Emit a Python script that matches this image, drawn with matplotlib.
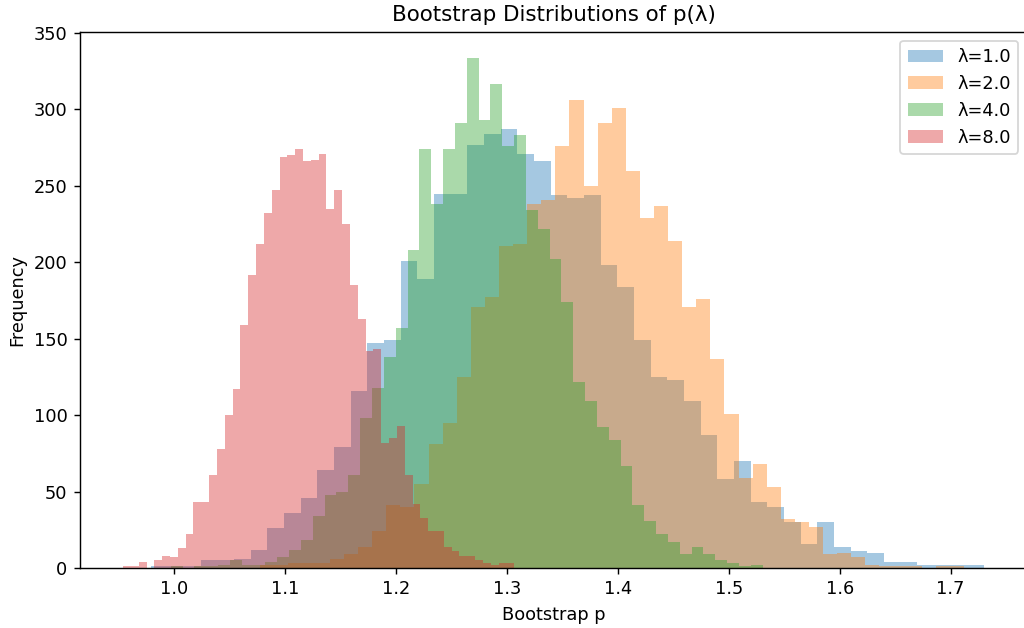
import numpy as np
import matplotlib
matplotlib.use('Agg')
import matplotlib.pyplot as plt

# Bootstrap histograms of p for each lambda: 50 equal bins between
# the smallest and largest bootstrap value, 5000 resamples each
lambdas = [1.0, 2.0, 4.0, 8.0]

p_range_l1 = (0.979, 1.730)
p_range_l2 = (1.077, 1.712)
p_range_l4 = (0.997, 1.5305)
p_range_l8 = (0.954, 1.3066)

counts_l1 = [1, 1, 1, 5, 5, 6, 12, 26, 36, 46,
             64, 79, 116, 147, 149, 201, 189, 245, 245, 277,
             284, 287, 271, 266, 244, 242, 244, 198, 184, 149,
             125, 123, 109, 87, 58, 70, 43, 40, 30, 16,
             30, 14, 11, 10, 4, 4, 2, 2, 2, 2]

counts_l2 = [2, 2, 3, 3, 3, 6, 9, 14, 24, 41,
             40, 55, 81, 95, 125, 171, 177, 211, 212, 238,
             241, 276, 306, 250, 291, 301, 260, 229, 237, 214,
             171, 176, 137, 101, 59, 68, 53, 32, 30, 27,
             9, 10, 7, 2, 1, 1, 1, 0, 1, 1]

counts_l4 = [1, 0, 1, 1, 2, 5, 2, 2, 4, 7,
             12, 18, 34, 48, 50, 61, 98, 118, 138, 157,
             208, 274, 238, 274, 291, 334, 293, 317, 276, 283,
             234, 222, 202, 174, 122, 109, 92, 84, 67, 41,
             31, 22, 17, 9, 14, 9, 5, 3, 1, 2]

counts_l8 = [1, 1, 4, 0, 5, 8, 7, 13, 22, 43,
             43, 61, 78, 100, 117, 159, 192, 212, 232, 247,
             269, 270, 274, 266, 267, 271, 235, 247, 225, 185,
             163, 142, 143, 82, 85, 93, 61, 42, 33, 24,
             24, 14, 11, 8, 8, 5, 3, 2, 3, 3]

ranges = [p_range_l1, p_range_l2, p_range_l4, p_range_l8]
counts = [counts_l1, counts_l2, counts_l4, counts_l8]

# 1024 x 628 px
fig = plt.figure(figsize=(8, 628 / 128), dpi=128)
ax = fig.add_axes([80 / 1024, 60 / 628, 947 / 1024, 536 / 628])

for lam, rng, cnt in zip(lambdas, ranges, counts):
    edges = np.linspace(rng[0], rng[1], len(cnt) + 1)
    centers = (edges[:-1] + edges[1:]) / 2
    ax.hist(centers, bins=edges, weights=cnt, alpha=0.4, label=f'λ={lam}')

ax.set_title('Bootstrap Distributions of p(λ)')
ax.set_xlabel('Bootstrap p')
ax.set_ylabel('Frequency')
ax.legend(loc='upper right')

fig.savefig('out.png', dpi=128)
